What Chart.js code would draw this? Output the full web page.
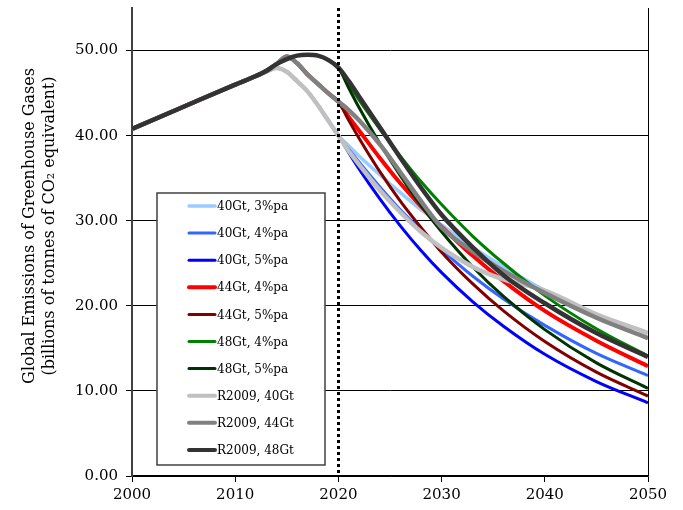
<!DOCTYPE html>
<html>
<head>
<meta charset="utf-8">
<script src="https://cdn.jsdelivr.net/npm/chart.js@4.4.1/dist/chart.umd.min.js"></script>
<style>
  html, body { margin: 0; padding: 0; background: #fff; }
  #wrap { width: 683px; height: 510px; }
</style>
</head>
<body>
<div id="wrap"><canvas id="grafica"></canvas></div>
<script>
// Años (eje x) y valores (Gt CO2e)
const years = [2000, 2005, 2010, 2012, 2013, 2014, 2015, 2016, 2017, 2018, 2019, 2020,
               2021, 2022, 2024, 2026, 2028, 2030, 2033, 2036, 2040, 2045, 2050];

const gt40_3 = [40.8, 43.4, 46.0, 47.0, 47.5, 47.95, 47.5, 46.4, 45.2, 43.6, 41.8, 40.0,
                38.8, 37.6, 35.4, 33.3, 31.3, 29.5, 26.9, 24.6, 21.8, 18.7, 16.2];
const gt40_4 = [40.8, 43.4, 46.0, 47.0, 47.5, 47.95, 47.5, 46.4, 45.2, 43.6, 41.8, 40.0,
                38.4, 36.9, 34.0, 31.3, 28.9, 26.6, 23.5, 20.8, 17.7, 14.4, 11.8];
const gt40_5 = [40.8, 43.4, 46.0, 47.0, 47.5, 47.95, 47.5, 46.4, 45.2, 43.6, 41.8, 40.0,
                38.0, 36.1, 32.6, 29.4, 26.5, 23.9, 20.5, 17.6, 14.3, 11.1, 8.6];
const gt44_4 = [40.8, 43.4, 46.0, 47.0, 47.6, 48.4, 49.3, 48.5, 47.2, 46.1, 45.0, 44.0,
                42.2, 40.6, 37.4, 34.4, 31.7, 29.3, 25.9, 22.9, 19.4, 15.9, 12.9];
const gt44_5 = [40.8, 43.4, 46.0, 47.0, 47.6, 48.4, 49.3, 48.5, 47.2, 46.1, 45.0, 44.0,
                41.8, 39.7, 35.8, 32.3, 29.2, 26.3, 22.6, 19.4, 15.8, 12.2, 9.4];
const gt48_4 = [40.8, 43.4, 46.0, 47.0, 47.6, 48.4, 49.0, 49.4, 49.5, 49.4, 48.9, 48.0,
                46.1, 44.2, 40.8, 37.6, 34.6, 31.9, 28.2, 25.0, 21.2, 17.3, 14.1];
const gt48_5 = [40.8, 43.4, 46.0, 47.0, 47.6, 48.4, 49.0, 49.4, 49.5, 49.4, 48.9, 48.0,
                45.6, 43.3, 39.1, 35.3, 31.8, 28.7, 24.6, 21.1, 17.2, 13.3, 10.3];
const r2009_40 = [40.8, 43.4, 46.0, 47.0, 47.5, 47.95, 47.5, 46.4, 45.2, 43.6, 41.8, 40.0,
                  38.2, 36.6, 33.6, 31.0, 28.7, 26.8, 24.6, 23.1, 21.8, 19.0, 16.8];
const r2009_44 = [40.8, 43.4, 46.0, 47.0, 47.6, 48.4, 49.3, 48.5, 47.2, 46.1, 45.0, 44.0,
                  43.0, 41.8, 39.0, 35.7, 32.3, 29.2, 26.4, 24.1, 21.5, 18.6, 16.2];
const r2009_48 = [40.8, 43.4, 46.0, 47.0, 47.6, 48.4, 49.0, 49.4, 49.5, 49.4, 48.9, 48.0,
                  46.4, 44.6, 41.0, 37.4, 33.9, 30.7, 26.9, 23.6, 20.3, 16.8, 14.0];

const seriesLabels = ['40Gt, 3%pa', '40Gt, 4%pa', '40Gt, 5%pa', '44Gt, 4%pa', '44Gt, 5%pa',
                      '48Gt, 4%pa', '48Gt, 5%pa', 'R2009, 40Gt', 'R2009, 44Gt', 'R2009, 48Gt'];
const seriesValues = [gt40_3, gt40_4, gt40_5, gt44_4, gt44_5, gt48_4, gt48_5, r2009_40, r2009_44, r2009_48];
const seriesColors = ['#99CCFF', '#3366FF', '#0000FF', '#FF0000', '#800000',
                      '#008000', '#003300', '#C0C0C0', '#808080', '#333333'];
const seriesWidths = [3.5, 3, 3, 4, 3, 3, 3, 4.5, 4.5, 4.5];

const yTicks = [0, 10, 20, 30, 40, 50];
const xTicks = [2000, 2010, 2020, 2030, 2040, 2050];
const cutoffYear = 2020;
const yTitle = ['Global Emissions of Greenhouse Gases', '(billions of tonnes of CO\u2082 equivalent)'];

const serif = '"DejaVu Serif", serif';

// Línea punteada vertical, borde derecho, título del eje y leyenda
const extrasPlugin = {
    id: 'extras',
    afterDatasetsDraw(chart) {
        const ctx = chart.ctx;
        const area = chart.chartArea;
        const xScale = chart.scales.x;

        // borde derecho
        ctx.save();
        ctx.strokeStyle = '#000';
        ctx.lineWidth = 1;
        ctx.beginPath();
        ctx.moveTo(area.right + 0.5, area.top);
        ctx.lineTo(area.right + 0.5, area.bottom);
        ctx.stroke();

        // línea punteada en 2020
        const xc = Math.round(xScale.getPixelForValue(cutoffYear)) + 0.5;
        ctx.setLineDash([3, 3]);
        ctx.lineWidth = 3;
        ctx.beginPath();
        ctx.moveTo(xc, area.top);
        ctx.lineTo(xc, area.bottom);
        ctx.stroke();
        ctx.setLineDash([]);

        // leyenda
        const lx = area.left + 25, ly = 193, lw = 168, lh = 272;
        ctx.fillStyle = '#fff';
        ctx.fillRect(lx, ly, lw, lh);
        ctx.strokeStyle = '#404040';
        ctx.lineWidth = 1.5;
        ctx.strokeRect(lx, ly, lw, lh);
        ctx.font = '12px ' + serif;
        ctx.textBaseline = 'middle';
        ctx.textAlign = 'left';
        chart.data.datasets.forEach((ds, i) => {
            const y = ly + 13 + i * 27.1;
            ctx.strokeStyle = ds.borderColor;
            ctx.lineWidth = Math.min(ds.borderWidth, 4);
            ctx.lineCap = 'round';
            ctx.beginPath();
            ctx.moveTo(lx + 32, y);
            ctx.lineTo(lx + 58, y);
            ctx.stroke();
            ctx.fillStyle = '#000';
            ctx.fillText(ds.label, lx + 60, y + 1);
        });

        // título del eje y
        ctx.translate(40, 226);
        ctx.rotate(-Math.PI / 2);
        ctx.font = '16px ' + serif;
        ctx.textAlign = 'center';
        ctx.fillStyle = '#000';
        ctx.fillText(yTitle[0], 0, -10);
        ctx.fillText(yTitle[1], 0, 10);
        ctx.restore();
    }
};

function generarGrafica() {
    const ctx = document.getElementById('grafica').getContext('2d');

    const datasets = seriesLabels.map((label, i) => ({
        label: label,
        data: years.map((yr, k) => ({ x: yr, y: seriesValues[i][k] })),
        borderColor: seriesColors[i],
        backgroundColor: seriesColors[i],
        borderWidth: seriesWidths[i],
        pointRadius: 0,
        cubicInterpolationMode: 'monotone',
        fill: false,
        order: seriesLabels.length - i,
    }));

    new Chart(ctx, {
        type: 'line',
        data: { datasets: datasets },
        plugins: [extrasPlugin],
        options: {
            responsive: true,
            maintainAspectRatio: false,
            animation: false,
            layout: { padding: { top: 8, right: 35, left: 0, bottom: 0 } },
            plugins: {
                legend: { display: false },
                tooltip: { enabled: false },
            },
            scales: {
                x: {
                    type: 'linear',
                    min: 2000,
                    max: 2050,
                    afterFit: (s) => { s.height = 34; s.paddingLeft = 0; s.paddingRight = 0; },
                    afterBuildTicks: (s) => { s.ticks = xTicks.map(v => ({ value: v })); },
                    grid: { drawOnChartArea: false, tickLength: 6, color: '#000' },
                    border: { color: '#000', width: 1.5 },
                    ticks: {
                        padding: 4,
                        color: '#000',
                        font: { family: serif, size: 15 },
                        callback: (v) => String(v),
                    },
                },
                y: {
                    min: 0,
                    max: 55,
                    afterFit: (s) => { s.width = 132; s.paddingTop = 0; s.paddingBottom = 0; },
                    afterBuildTicks: (s) => { s.ticks = yTicks.map(v => ({ value: v })); },
                    grid: { color: '#000', lineWidth: 1, tickLength: 6 },
                    border: { color: '#404040', width: 2 },
                    ticks: {
                        padding: 8,
                        color: '#000',
                        font: { family: serif, size: 15 },
                        callback: (v) => v.toFixed(2),
                    },
                },
            },
        },
    });
}

document.addEventListener('DOMContentLoaded', generarGrafica);
</script>
</body>
</html>
